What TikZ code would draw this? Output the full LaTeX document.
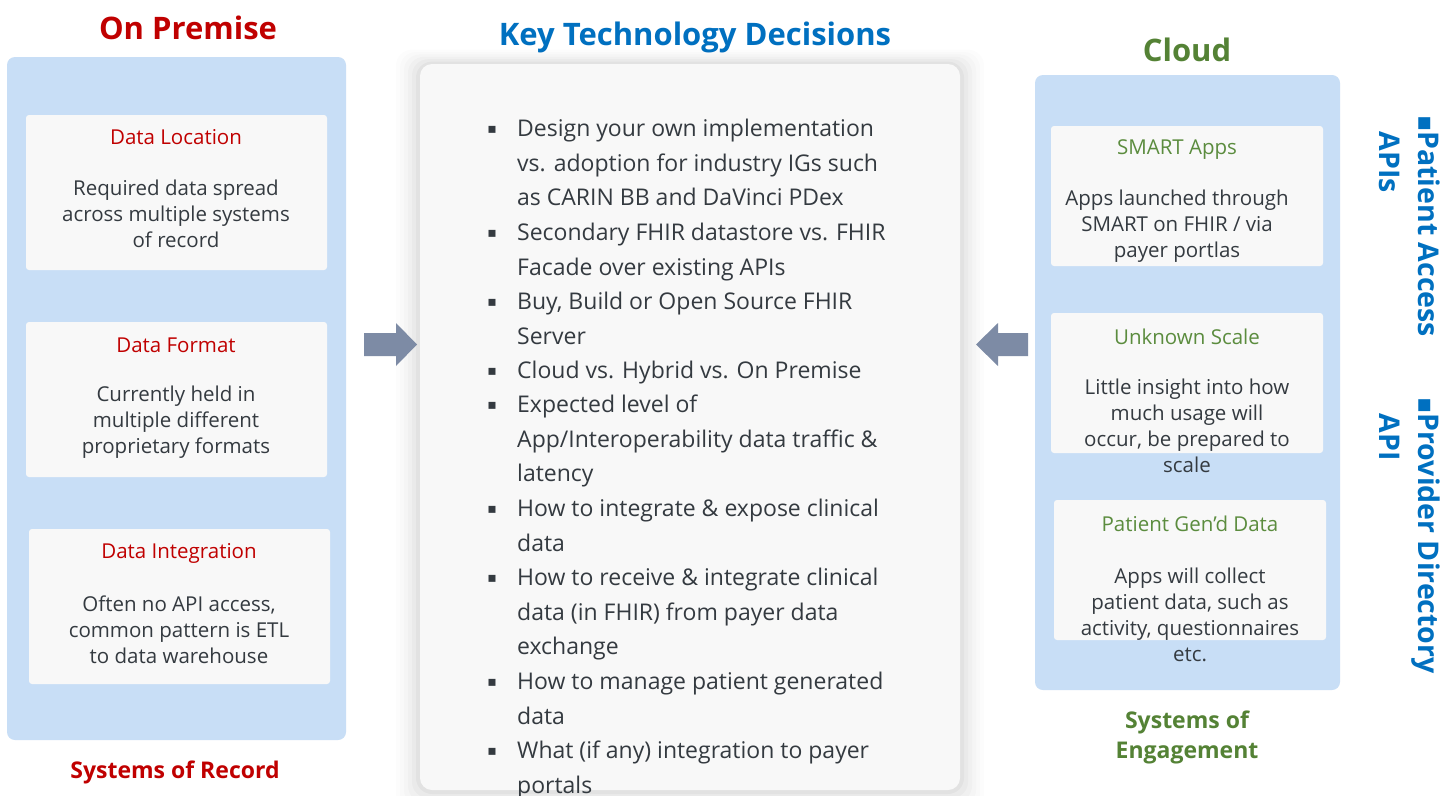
\documentclass[tikz,border=0pt]{standalone}
\usepackage{fontspec}
\setmainfont{Open Sans}
\newfontfamily\dejavu{DejaVu Sans}
\usetikzlibrary{shadows.blur}
\definecolor{panelblue}{HTML}{C8DEF6}
\definecolor{cardgray}{HTML}{F8F8F8}
\definecolor{bodytext}{HTML}{343A40}
\definecolor{premred}{HTML}{C00000}
\definecolor{keyblue}{HTML}{0070C0}
\definecolor{cloudgreen}{HTML}{548235}
\definecolor{cardgreen}{HTML}{5B8C3E}
\definecolor{arrowgray}{HTML}{7D8BA5}
\newcommand{\vbul}{{\dejavu\fontsize{24}{39}\selectfont ▪}}
\tikzset{
  panel/.style={fill=panelblue, draw=none, rounded corners=8pt},
  card/.style={fill=cardgray, draw=none, rounded corners=3pt},
  redtitle/.style={text=premred, font=\fontsize{20.5}{24}\selectfont, anchor=center},
  greentitle/.style={text=cardgreen, font=\fontsize{20.5}{24}\selectfont, anchor=center},
  cardbody/.style={text=bodytext, font=\fontsize{20.5}{25.8}\selectfont, align=center, anchor=center, inner sep=0pt},
  bigtitle/.style={font=\bfseries\fontsize{31}{34}\selectfont, anchor=center},
  subtitle/.style={font=\bfseries\fontsize{23}{30}\selectfont, align=center, anchor=center},
  bullettext/.style={text=bodytext, font=\fontsize{23}{34.5}\selectfont, align=left, anchor=north west, inner sep=0pt},
  bulletmark/.style={text=bodytext, font=\dejavu\fontsize{14}{16}\selectfont, anchor=center, inner sep=0pt},
  vert/.style={text=keyblue, font=\bfseries\fontsize{28.5}{39}\selectfont, rotate=-90, align=left, anchor=north west, inner sep=0pt},
  blockarrow/.style={fill=arrowgray, draw=none}
}
\begin{document}
\begin{tikzpicture}[x=1pt,y=-1pt]
\useasboundingbox (0,0) rectangle (1448,795);
\fill[white] (0,0) rectangle (1448,795);

% ---------- Left: On Premise ----------
\node[bigtitle, text=premred] (premtitle) at (188,28) {On Premise};
\fill[panel] (7,57) rectangle (346,740);
\node[subtitle, text=premred] (sor) at (175,772) {Systems of Record};

\fill[card] (26,115) rectangle (327,270);
\node[redtitle] (locT) at (176,137) {Data Location};
\node[cardbody] (locB) at (176,214) {Required data spread\\across multiple systems\\of record};

\fill[card] (26,322) rectangle (327,477);
\node[redtitle] (fmtT) at (176,345) {Data Format};
\node[cardbody] (fmtB) at (176,422) {Currently held in\\multiple different\\proprietary formats};

\fill[card] (29,529) rectangle (330,684);
\node[redtitle] (intT) at (179,553) {Data Integration};
\node[cardbody] (intB) at (179,630) {Often no API access,\\common pattern is ETL\\to data warehouse};

% ---------- Centre ----------
\node[bigtitle, text=keyblue] (keytitle) at (695,37) {Key Technology Decisions};
\foreach \g/\o in {24/0.010,20/0.012,16/0.015,12/0.02,8/0.025,4/0.03}
  \fill[black, opacity=\o, rounded corners=16pt] (420-\g,64-\g*0.6) rectangle (960+\g,790+\g);
\fill[cardgray, rounded corners=12pt] (420,64) rectangle (960,790);

\foreach \y/\t [count=\i] in {
  113/{Design your own implementation\\vs. adoption for industry IGs such\\as CARIN BB and DaVinci PDex},
  217/{Secondary FHIR datastore vs. FHIR\\Facade over existing APIs},
  286/{Buy, Build or Open Source FHIR\\Server},
  355/{Cloud vs. Hybrid vs. On Premise},
  389/{Expected level of\\App/Interoperability data traffic \&\\latency},
  493/{How to integrate \& expose clinical\\data},
  562/{How to receive \& integrate clinical\\data (in FHIR) from payer data\\exchange},
  666/{How to manage patient generated\\data},
  735/{What (if any) integration to payer\\portals}}
{
  \node[bullettext] (item\i) at (517,\y+6) {\t};
  \node[bulletmark] (mark\i) at (492,\y+17) {▪};
}

% block arrows
\fill[blockarrow] (364,333) -- (396,333) -- (396,323) -- (417,344.5) -- (396,366) -- (396,356) -- (364,356) -- cycle;
\fill[blockarrow] (1028,333) -- (998,333) -- (998,323) -- (976,344.5) -- (998,366) -- (998,356) -- (1028,356) -- cycle;

% ---------- Right: Cloud ----------
\node[bigtitle, text=cloudgreen] (cloudtitle) at (1187,50) {Cloud};
\fill[panel] (1035,75) rectangle (1340,690);
\node[subtitle, text=cloudgreen] (soe) at (1187,737) {Systems of\\Engagement};

\fill[card] (1051,126) rectangle (1323,266);
\node[greentitle] (smartT) at (1177,150) {SMART Apps};
\node[cardbody] (smartB) at (1177,226) {Apps launched through\\SMART on FHIR / via\\payer portlas};

\fill[card] (1051,313) rectangle (1323,453);
\node[greentitle] (scaleT) at (1187,337) {Unknown Scale};
\node[cardbody] (scaleB) at (1187,426) {Little insight into how\\much usage will\\occur, be prepared to\\scale};

\fill[card] (1054,500) rectangle (1326,640);
\node[greentitle] (genT) at (1190,524) {Patient Gen’d Data};
\node[cardbody] (genB) at (1190,615) {Apps will collect\\patient data, such as\\activity, questionnaires\\etc.};

% vertical labels
\node[vert] (pa) at (1440,115) {\vbul Patient Access\\\phantom{\vbul}APIs};
\node[vert] (pd) at (1440,397) {\vbul Provider Directory\\\phantom{\vbul}API};
\end{tikzpicture}
\end{document}
